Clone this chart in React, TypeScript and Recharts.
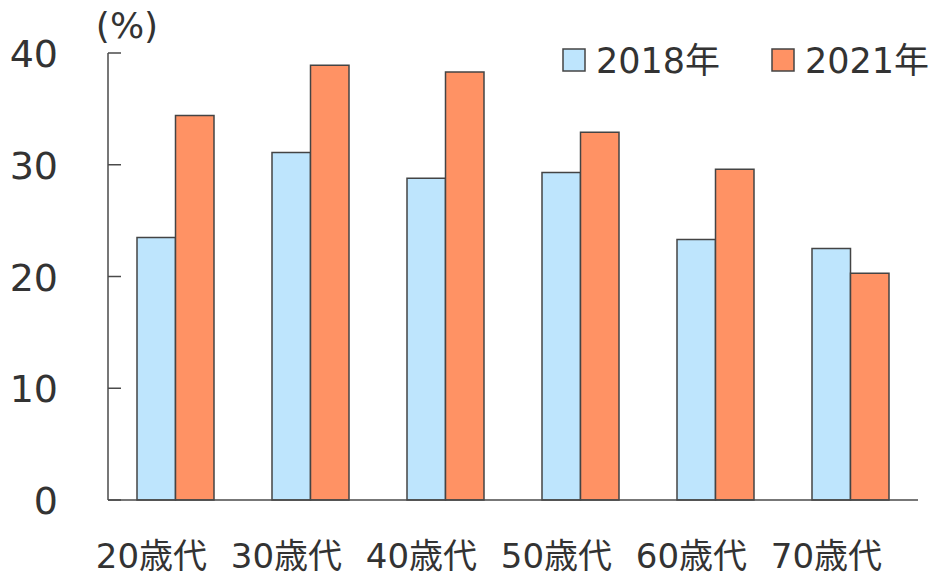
import { BarChart, Bar, XAxis, YAxis } from "recharts";

// Data
const ageGroups = ["20歳代", "30歳代", "40歳代", "50歳代", "60歳代", "70歳代"];
const values2018 = [23.5, 31.1, 28.8, 29.3, 23.3, 22.5];
const values2021 = [34.4, 38.9, 38.3, 32.9, 29.6, 20.3];
const yTicks = [0, 10, 20, 30, 40];

const seriesList = [
  { key: "y2018", name: "2018年", color: "#BEE5FD" },
  { key: "y2021", name: "2021年", color: "#FF9264" },
];

const data = ageGroups.map((group, i) => ({
  group,
  y2018: values2018[i],
  y2021: values2021[i],
}));

// Style
const FONT = "'DejaVu Sans', 'Noto Sans CJK JP', sans-serif";
const TEXT_COLOR = "#333333";
const AXIS_COLOR = "#4a4a4a";
const BAR_STROKE = "#444444";

// Y ticks point inward, labels sit well left of the axis
function YTick(props: any) {
  const { x, y, payload } = props;
  return (
    <g>
      <line x1={x} x2={x + 13} y1={y} y2={y} stroke={AXIS_COLOR} strokeWidth={1.5} />
      <text
        x={x - 50}
        y={y + 14}
        textAnchor="end"
        fontSize={38}
        fontFamily={FONT}
        fill={TEXT_COLOR}
      >
        {payload.value}
      </text>
    </g>
  );
}

function XTick(props: any) {
  const { x, payload } = props;
  return (
    <text
      x={x - 24}
      y={568}
      textAnchor="middle"
      fontSize={34}
      fontFamily={FONT}
      fill={TEXT_COLOR}
    >
      {payload.value}
    </text>
  );
}

function App() {
  //Render
  return (
    <div style={{ position: "absolute", left: 0, top: 0, width: 937, height: 576 }}>
      <BarChart
        width={937}
        height={576}
        data={data}
        margin={{ top: 53, right: 19, bottom: 0, left: 0 }}
        barGap={0}
        barSize={38.5}
        style={{ overflow: "visible" }}
      >
        <XAxis
          dataKey="group"
          height={76}
          axisLine={{ stroke: AXIS_COLOR, strokeWidth: 1.5 }}
          tickLine={false}
          tick={<XTick />}
          interval={0}
        />
        <YAxis
          width={108}
          domain={[0, 40]}
          ticks={yTicks}
          axisLine={{ stroke: AXIS_COLOR, strokeWidth: 1.5 }}
          tickLine={false}
          tickSize={0}
          tickMargin={0}
          tick={<YTick />}
          interval={0}
        />
        {seriesList.map((s) => (
          <Bar
            key={s.key}
            dataKey={s.key}
            name={s.name}
            fill={s.color}
            stroke={BAR_STROKE}
            strokeWidth={1.5}
            isAnimationActive={false}
          />
        ))}
      </BarChart>
      <svg
        width={937}
        height={90}
        style={{ position: "absolute", left: 0, top: 0, pointerEvents: "none" }}
      >
        <text x={127} y={38} textAnchor="middle" fontSize={36} fontFamily={FONT} fill={TEXT_COLOR}>
          (%)
        </text>
        {seriesList.map((s, i) => {
          const left = 563 + i * 209;
          return (
            <g key={s.key}>
              <rect
                x={left}
                y={49}
                width={22}
                height={22}
                fill={s.color}
                stroke={BAR_STROKE}
                strokeWidth={1.5}
              />
              <text
                x={left + 33}
                y={73}
                fontSize={35}
                fontFamily={FONT}
                fill={TEXT_COLOR}
              >
                {s.name}
              </text>
            </g>
          );
        })}
      </svg>
    </div>
  );
}

export default App;
